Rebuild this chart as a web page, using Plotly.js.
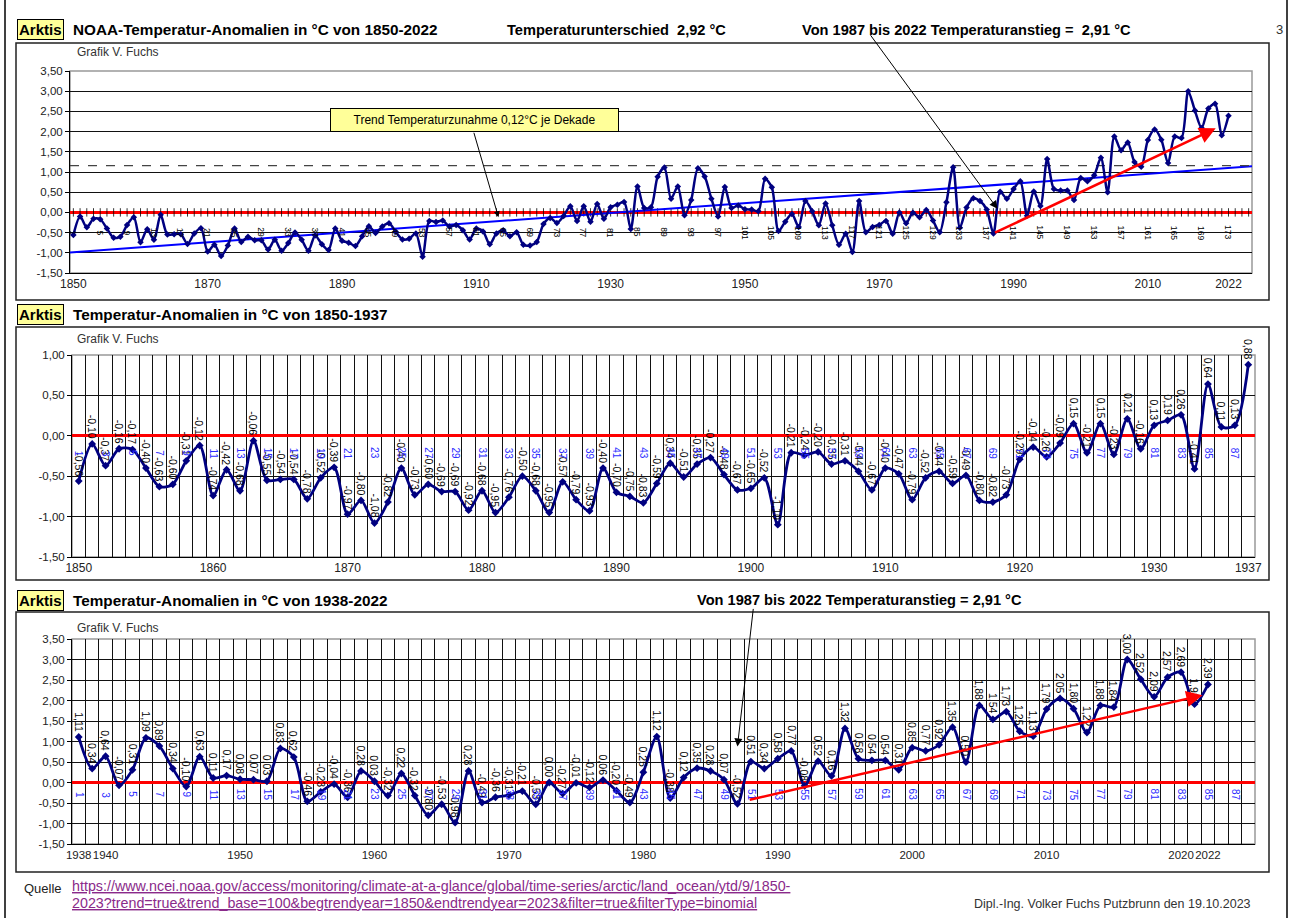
<!DOCTYPE html>
<html><head><meta charset="utf-8">
<script src="https://cdn.plot.ly/plotly-3.0.1.min.js"></script>
<style>html,body{margin:0;padding:0;background:#fff}#chart{width:1292px;height:918px}</style>
</head><body><div id="chart"></div>
<script>
// ---------- data ----------
const anomEarly = [ // 1850-1937
 -0.56,-0.10,-0.37,-0.16,-0.17,-0.40,-0.63,-0.60,-0.31,-0.12,
 -0.74,-0.42,-0.68,-0.06,-0.55,-0.54,-0.54,-0.78,-0.52,-0.39,
 -0.97,-0.80,-1.08,-0.82,-0.40,-0.73,-0.60,-0.69,-0.69,-0.92,
 -0.68,-0.95,-0.76,-0.50,-0.68,-0.95,-0.57,-0.79,-0.93,-0.40,
 -0.70,-0.75,-0.83,-0.59,-0.34,-0.51,-0.35,-0.27,-0.48,-0.67,
 -0.65,-0.52,-1.10,-0.21,-0.24,-0.20,-0.35,-0.31,-0.44,-0.67,
 -0.40,-0.47,-0.79,-0.52,-0.44,-0.59,-0.49,-0.80,-0.82,-0.73,
 -0.29,-0.14,-0.26,-0.09,0.15,-0.21,0.15,-0.23,0.21,-0.16,
 0.13,0.19,0.26,-0.41,0.64,0.11,0.13,0.88];
const anomLate = [ // 1938-2022
 1.11,0.34,0.64,-0.07,0.31,1.09,0.89,0.34,-0.10,0.63,
 0.11,0.17,0.08,0.07,0.03,0.83,0.62,-0.46,-0.23,-0.04,
 -0.36,0.28,0.03,-0.32,0.22,-0.32,-0.80,-0.53,-0.98,0.28,
 -0.49,-0.36,-0.31,-0.21,-0.53,0.00,-0.27,-0.01,-0.12,0.06,
 -0.20,-0.49,0.25,1.12,-0.38,0.12,0.35,0.28,0.07,-0.52,
 0.51,0.34,0.58,0.77,-0.08,0.52,0.16,1.32,0.58,0.54,
 0.54,0.31,0.85,0.77,0.92,1.35,0.50,1.88,1.54,1.73,
 1.25,1.13,1.79,2.05,1.80,1.22,1.88,1.84,3.00,2.52,
 2.09,2.57,2.69,1.91,2.39];
const firstYear = 1850, splitYear = 1938, lastCategory = 2025;
const ticksTop = [1850,1870,1890,1910,1930,1950,1970,1990,2010,2022];
const ticksMid = [1850,1860,1870,1880,1890,1900,1910,1920,1930,1937];
const ticksBot = [1938,1940,1950,1960,1970,1980,1990,2000,2010,2020,2022];
const yTicksWide = [-1.5,-1,-0.5,0,0.5,1,1.5,2,2.5,3,3.5];
const yTicksMid = [-1.5,-1,-0.5,0,0.5,1];
const trendYears = [1849.5, 2025.5];
const trendVals = [-0.99, 1.14];
const dashYears = [1849.5, 2025.5];
const dashVals = [1.16, 1.16];
const riseTopFrom = [1987, -0.52], riseTopTo = [2020.1, 2.08];
const riseBotFrom = [1987.8, -0.43], riseBotTo = [2021.6, 2.13];

// ---------- derived ----------
const yearsEarly = anomEarly.map((_, i) => firstYear + i);
const yearsLate = anomLate.map((_, i) => splitYear + i);
const yearsAll = yearsEarly.concat(yearsLate);
const anomAll = anomEarly.concat(anomLate);
const catYears = []; for (let y = firstYear; y <= lastCategory; y++) catYears.push(y);

const F = 'Arial, "Liberation Sans", sans-serif';
const W = 1292, H = 918;
const px = x => x / W, py = y => 1 - y / H;
const fmt = v => v.toFixed(2).replace('.', ',');
const NAVY = '#000080';

const traces = [
 {x: catYears, y: catYears.map(() => 0), xaxis:'x', yaxis:'y', mode:'markers', hoverinfo:'skip',
  marker:{symbol:'line-ns-open', size:6, color:'#000', line:{color:'#000', width:0.8}}},
 {x: trendYears, y: trendVals, xaxis:'x', yaxis:'y', mode:'lines', line:{color:'#0000ff', width:2}},
 {x: dashYears, y: dashVals, xaxis:'x', yaxis:'y', mode:'lines', line:{color:'#444', width:1.3, dash:'dash'}},
 {x: yearsAll, y: anomAll, xaxis:'x', yaxis:'y', mode:'lines+markers',
  line:{color:NAVY, width:2.5, shape:'spline', smoothing:0.8}, marker:{symbol:'diamond', size:5, color:NAVY}},
 {x: yearsEarly, y: anomEarly, xaxis:'x2', yaxis:'y2', mode:'lines+markers',
  line:{color:NAVY, width:2.8, shape:'spline', smoothing:0.8}, marker:{symbol:'diamond', size:6, color:NAVY}},
 {x: yearsLate, y: anomLate, xaxis:'x3', yaxis:'y3', mode:'lines+markers',
  line:{color:NAVY, width:2.8, shape:'spline', smoothing:0.8}, marker:{symbol:'diamond', size:6, color:NAVY}}
];

function xAx(dom, range, ticks, anchor, vgrid, fs) {
  const a = {domain: dom, range: range, anchor: anchor, tickmode:'array', tickvals: ticks,
    ticktext: ticks.map(String), showgrid:false, zeroline:false, showline:true, linecolor:'#000', linewidth:1,
    ticks:'', tickangle:0, tickfont:{family:F, size:fs, color:'#222'}, fixedrange:true};
  if (vgrid) a.minor = {tickmode:'linear', tick0:0.5, dtick:1, showgrid:true, gridcolor:'#111', gridwidth:1, ticks:''};
  return a;
}
function yAx(dom, range, ticks, anchor) {
  return {domain: dom, range: range, anchor: anchor, tickmode:'array', tickvals: ticks,
    ticktext: ticks.map(fmt), showgrid:true, gridcolor:'#111', gridwidth:1,
    zeroline:true, zerolinecolor:'#ff0000', zerolinewidth:2.6, showline:true, linecolor:'#000', linewidth:1,
    ticks:'outside', ticklen:4, tickcolor:'#000', tickfont:{family:F, size:11.5, color:'#222'}, fixedrange:true};
}

const ann = [];
function txt(x, y, text, size, opts) {
  ann.push(Object.assign({xref:'paper', yref:'paper', x: px(x), y: py(y), text: text, showarrow:false,
    xanchor:'left', yanchor:'middle', font:{family:F, size:size, color:'#000'}}, opts || {}));
}
// data labels
function dataLabels(xs, ys, xr, yr) {
  xs.forEach((x, i) => ann.push({x:x, y:ys[i], xref:xr, yref:yr, text: fmt(ys[i]), textangle:90,
    showarrow:false, xanchor:'center', yanchor:'bottom', yshift:3, font:{family:F, size:10.5, color:'#000'}}));
}
dataLabels(yearsEarly, anomEarly, 'x2', 'y2');
dataLabels(yearsLate, anomLate, 'x3', 'y3');
// index labels
function idxLabels(start, step, maxIdx, baseYear, yv, xr, yr, color, size) {
  for (let i = start; i <= maxIdx; i += step)
    ann.push({x: baseYear + i, y: yv, xref:xr, yref:yr, text: String(i), textangle:90, showarrow:false,
      xanchor:'center', yanchor:'middle', font:{family:F, size:size, color:color}});
}
idxLabels(1, 4, 173, firstYear - 1, -0.5, 'x', 'y', '#000', 8.5);
idxLabels(1, 2, 87, firstYear - 1, -0.22, 'x2', 'y2', '#2b2bff', 10);
idxLabels(1, 2, 87, splitYear - 1, -0.3, 'x3', 'y3', '#2b2bff', 10);

// titles
const box = {bgcolor:'#ffff99', bordercolor:'#000', borderwidth:1, borderpad:1};
[29, 314, 600].forEach(y => txt(17, y, '<b>Arktis</b>', 15, box));
txt(71, 29, '<b>NOAA-Temperatur-Anomalien in °C von 1850-2022</b>', 15.3);
txt(71, 314, '<b>Temperatur-Anomalien in °C von 1850-1937</b>', 15.3);
txt(71, 600, '<b>Temperatur-Anomalien in °C von 1938-2022</b>', 15.3);
txt(505, 30, '<b>Temperaturunterschied  2,92 °C</b>', 14.6);
txt(800, 30, '<b>Von 1987 bis 2022 Temperaturanstieg =  2,91 °C</b>', 14.6);
txt(695, 600, '<b>Von 1987 bis 2022 Temperaturanstieg = 2,91 °C</b>', 14.6);
txt(1274, 30, '3', 13, {font:{family:F, size:13, color:'#333'}});
[52, 339, 628].forEach(y => txt(75, y, 'Grafik V. Fuchs', 12, {font:{family:F, size:12, color:'#333'}}));
txt(330, 120, 'Trend Temperaturzunahme 0,12°C je Dekade', 12,
  {bgcolor:'#ffff99', bordercolor:'#000', borderwidth:1, width:285, height:20, align:'center'});
// footer
txt(22, 888, 'Quelle', 13, {font:{family:F, size:13, color:'#222'}});
const LINK = {family:F, size:14.3, color:'#8a2a8a'};
txt(70, 886, '<span style="text-decoration:underline">https://www.ncei.noaa.gov/access/monitoring/climate-at-a-glance/global/time-series/arctic/land_ocean/ytd/9/1850-</span>', 14.3, {font:LINK});
txt(70, 903, '<span style="text-decoration:underline">2023?trend=true&trend_base=100&begtrendyear=1850&endtrendyear=2023&filter=true&filterType=binomial</span>', 14.3, {font:LINK});
txt(1253, 904, 'Dipl.-Ing. Volker Fuchs Putzbrunn den 19.10.2023', 12.5,
  {xanchor:'right', font:{family:F, size:12.5, color:'#333'}});

// arrows
ann.push({x:1913.3, y:-0.12, xref:'x', yref:'y', text:'', showarrow:true, ax:-25, ay:-86,
  arrowhead:2, arrowsize:1.2, arrowwidth:1, arrowcolor:'#000'});
ann.push({x:1987.6, y:0.09, xref:'x', yref:'y', text:'', showarrow:true, ax:-128, ay:-175,
  arrowhead:2, arrowsize:1.6, arrowwidth:1, arrowcolor:'#000'});
ann.push({x:1987, y:0.88, xref:'x3', yref:'y3', text:'', showarrow:true, ax:16, ay:-139,
  arrowhead:2, arrowsize:1.6, arrowwidth:1, arrowcolor:'#000'});
ann.push({x:riseTopTo[0], y:riseTopTo[1], ax:riseTopFrom[0], ay:riseTopFrom[1], xref:'x', yref:'y',
  axref:'x', ayref:'y', text:'', showarrow:true, arrowhead:2, arrowsize:1.3, arrowwidth:2.5, arrowcolor:'#ff0000'});
ann.push({x:riseBotTo[0], y:riseBotTo[1], ax:riseBotFrom[0], ay:riseBotFrom[1], xref:'x3', yref:'y3',
  axref:'x3', ayref:'y3', text:'', showarrow:true, arrowhead:2, arrowsize:1.3, arrowwidth:2.5, arrowcolor:'#ff0000'});

// frames
const shapes = [];
function rectPx(x0, y0, x1, y1, color, w) {
  shapes.push({type:'rect', xref:'paper', yref:'paper', x0:px(x0), x1:px(x1), y0:py(y1), y1:py(y0),
    line:{color:color, width:w}, fillcolor:'rgba(0,0,0,0)', layer:'above'});
}
rectPx(16, 43, 1269, 300, '#222', 1.5);
rectPx(16, 327, 1269, 580, '#222', 1.5);
rectPx(16, 612, 1269, 872, '#222', 1.5);
shapes.push({type:'line', xref:'paper', yref:'paper', x0:px(5), x1:px(5), y0:0, y1:1, line:{color:'#000', width:1.5}});
shapes.push({type:'line', xref:'paper', yref:'paper', x0:px(1287), x1:px(1287), y0:0, y1:1, line:{color:'#000', width:1.5}});
['', '2', '3'].forEach(s => shapes.push({type:'rect', xref:'x'+s+' domain', yref:'y'+s+' domain',
  x0:0, x1:1, y0:0, y1:1, line:{color:'#999', width:1.5}, layer:'below'}));

const layout = {
  width:W, height:H, margin:{l:0, r:0, t:0, b:0}, showlegend:false,
  paper_bgcolor:'#fff', plot_bgcolor:'#fff', font:{family:F},
  xaxis: xAx([px(70), px(1252)], [1849.5, 2025.5], ticksTop, 'y', false, 12),
  yaxis: yAx([py(273), py(71)], [-1.5, 3.5], yTicksWide, 'x'),
  xaxis2: xAx([px(72), px(1255)], [1849.5, 1937.5], ticksMid, 'y2', true, 12),
  yaxis2: yAx([py(557), py(355)], [-1.5, 1.0], yTicksMid, 'x2'),
  xaxis3: xAx([px(72), px(1255)], [1937.5, 2025.5], ticksBot, 'y3', true, 11.5),
  yaxis3: yAx([py(844), py(639)], [-1.5, 3.5], yTicksWide, 'x3'),
  annotations: ann, shapes: shapes
};
Plotly.newPlot('chart', traces, layout, {displayModeBar:false, staticPlot:true});
</script></body></html>
